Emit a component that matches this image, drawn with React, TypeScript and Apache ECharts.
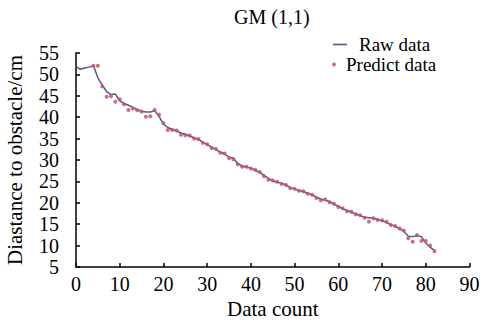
import React, { useEffect, useRef } from "react";
import * as echarts from "echarts";

const rawX = Array.from({ length: 83 }, (_, i) => i);
const rawValues = [
  51.8, 51.2, 51.5, 51.7, 52.0, 49.2, 47.5, 46.0, 45.3, 45.4,
  43.8, 43.2, 42.8, 42.3, 41.8, 41.4, 41.2, 41.2, 41.5, 40.2,
  38.4, 37.6, 37.2, 36.8, 36.3, 36.0, 35.6, 35.2, 34.8, 34.2,
  33.6, 33.0, 32.4, 31.9, 31.4, 30.7, 30.4, 29.2, 28.6, 28.3,
  28.1, 27.6, 27.1, 26.4, 25.7, 25.1, 24.8, 24.6, 24.1, 23.6,
  23.2, 22.9, 22.6, 22.3, 21.8, 21.3, 20.9, 20.6, 20.3, 19.7,
  19.2, 18.6, 18.2, 17.8, 17.4, 17.0, 16.6, 16.5, 16.4, 16.1,
  15.8, 15.4, 14.9, 14.5, 14.0, 13.3, 12.2, 12.1, 12.3, 12.1,
  10.6, 9.6, 8.9,
];

const predictX = Array.from({ length: 79 }, (_, i) => i + 4);
const predictValues = [
  52.0, 52.0, 47.2, 44.8, 44.9, 43.6,
  44.2, 43.0, 41.7, 42.0, 41.6, 41.3, 40.1, 40.2, 41.7, 40.6,
  38.6, 37.0, 37.0, 36.9, 35.9, 35.8, 35.7, 35.0, 34.9, 34.0,
  33.7, 32.8, 32.6, 31.7, 31.5, 30.4, 30.2, 29.0, 28.4, 28.4,
  28.0, 27.7, 27.2, 26.2, 25.4, 25.2, 24.9, 24.4, 24.2, 23.4,
  23.3, 22.8, 22.7, 22.1, 21.9, 21.1, 20.6, 20.8, 20.1, 19.8,
  19.0, 18.7, 18.0, 17.9, 17.3, 17.1, 16.5, 15.6, 16.4, 16.0,
  15.9, 15.6, 14.8, 14.6, 14.0, 13.5, 11.7, 10.9, 12.5, 11.1,
  11.1, 10.0, 8.7,
];

const FONT = "Liberation Serif";

export default function App() {
  const ref = useRef<HTMLDivElement>(null);
  useEffect(() => {
    if (!ref.current) return;
    const chart = echarts.init(ref.current, null, { renderer: "svg" });
    chart.setOption({
      animation: false,
      backgroundColor: "#fff",
      title: {
        text: "GM (1,1)",
        left: 234,
        top: 7,
        padding: 0,
        textStyle: { fontFamily: FONT, fontSize: 20, fontWeight: "normal", color: "#000" },
      },
      legend: [
        {
          data: [{ name: "Raw data", icon: "path://M0,0L14,0L14,1.6L0,1.6Z" }],
          left: 333,
          top: 35,
          padding: 0,
          itemWidth: 14,
          itemHeight: 4,
          textStyle: { fontFamily: FONT, fontSize: 19, lineHeight: 19, color: "#000", padding: [0, 0, 0, 7] },
        },
        {
          data: ["Predict data"],
          left: 332,
          top: 55,
          padding: 0,
          itemWidth: 14,
          itemHeight: 4,
          textStyle: { fontFamily: FONT, fontSize: 19, lineHeight: 19, color: "#000" },
        },
      ],
      grid: { left: 76, right: 13.5, top: 53, bottom: 66, outerBoundsMode: "none", containLabel: false },
      xAxis: {
        type: "value",
        min: 0,
        max: 90,
        interval: 10,
        name: "Data count",
        nameLocation: "middle",
        nameGap: 30,
        nameTextStyle: { fontFamily: FONT, fontSize: 21, color: "#000" },
        axisLine: { lineStyle: { color: "#000", width: 1.5 } },
        axisTick: { inside: true, length: 4, lineStyle: { color: "#000", width: 1.5 } },
        axisLabel: { fontFamily: FONT, fontSize: 20, color: "#000", margin: 7 },
        splitLine: { show: false },
      },
      yAxis: {
        type: "value",
        min: 5,
        max: 55,
        interval: 5,
        name: "Diastance to obstacle/cm",
        nameLocation: "middle",
        nameGap: 51,
        nameTextStyle: { fontFamily: FONT, fontSize: 21, color: "#000" },
        axisLine: { show: true, lineStyle: { color: "#000", width: 1.5 } },
        axisTick: { show: true, inside: true, length: 4, lineStyle: { color: "#000", width: 1.5 } },
        axisLabel: { fontFamily: FONT, fontSize: 20, color: "#000", margin: 17 },
        splitLine: { show: false },
      },
      series: [
        {
          name: "Raw data",
          type: "line",
          data: rawX.map((x, i) => [x, rawValues[i]]),
          symbol: "none",
          lineStyle: { color: "#4f5b88", width: 1.5 },
          itemStyle: { color: "#4f5b88" },
          z: 2,
        },
        {
          name: "Predict data",
          type: "scatter",
          data: predictX.map((x, i) => [x, predictValues[i]]),
          symbol: "circle",
          symbolSize: 4,
          itemStyle: { color: "#c4526e", opacity: 0.85 },
          z: 3,
        },
      ],
    });
    return () => chart.dispose();
  }, []);
  return (
    <div
      ref={ref}
      style={{ position: "absolute", left: 0, top: 0, width: 483, height: 333 }}
    />
  );
}
